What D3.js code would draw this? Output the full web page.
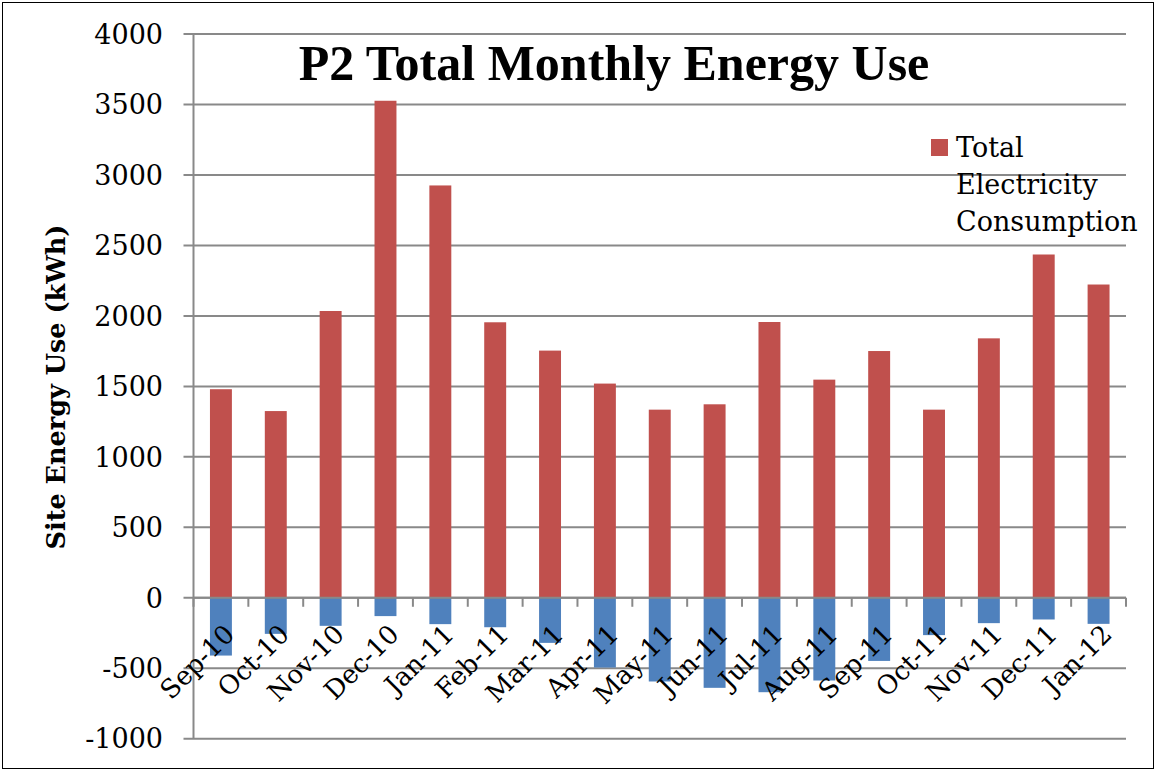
<!DOCTYPE html>
<html lang="en">
<head>
<meta charset="UTF-8">
<title>P2 Total Monthly Energy Use</title>
<script src="https://d3js.org/d3.v7.min.js"></script>
<style>
  body { margin: 0; background: #fff; }
  text { font-family: "DejaVu Serif", serif; fill: #000; }
</style>
</head>
<body>
<div id="chart"></div>
<script>
// chart data
const months = ["Sep-10", "Oct-10", "Nov-10", "Dec-10", "Jan-11", "Feb-11", "Mar-11", "Apr-11", "May-11",
  "Jun-11", "Jul-11", "Aug-11", "Sep-11", "Oct-11", "Nov-11", "Dec-11", "Jan-12"];
const consumption = [1480, 1325, 2035, 3527, 2926, 1955, 1754, 1520, 1335,
  1373, 1957, 1548, 1751, 1335, 1841, 2436, 2223];
const generation = [-410, -256, -199, -130, -187, -209, -320, -495, -594,
  -639, -670, -587, -448, -265, -180, -154, -185];
const yTicks = [-1000, -500, 0, 500, 1000, 1500, 2000, 2500, 3000, 3500, 4000];
const legendLines = ["Total", "Electricity", "Consumption"];

const width = 1156, height = 771;
const svg = d3.select("#chart").append("svg")
  .attr("width", width)
  .attr("height", height);

// outer frame
svg.append("rect")
  .attr("x", 2.5).attr("y", 2.5)
  .attr("width", width - 5).attr("height", height - 5)
  .attr("fill", "none").attr("stroke", "#000").attr("stroke-width", 1);

const left = 193.5, right = 1126;
const x = d3.scaleBand().domain(months).range([left, right])
  .paddingInner(0.6).paddingOuter(0.3);
const y = d3.scaleLinear().domain([-1000, 4000]).range([738.7, 34.1]);
const step = x.step();

// gridlines
svg.append("g").selectAll("line")
  .data(yTicks)
  .join("line")
  .attr("x1", left - 10).attr("x2", right)
  .attr("y1", d => y(d)).attr("y2", d => y(d))
  .attr("stroke", "#898989").attr("stroke-width", 2);

// y tick labels
svg.append("g").selectAll("text")
  .data(yTicks)
  .join("text")
  .attr("x", 163).attr("y", d => y(d))
  .attr("dy", "0.36em")
  .attr("text-anchor", "end")
  .style("font-size", "27px")
  .text(d => d);

// vertical axis line
svg.append("line")
  .attr("x1", left).attr("x2", left)
  .attr("y1", y(4000)).attr("y2", y(-1000))
  .attr("stroke", "#898989").attr("stroke-width", 2);

// bars
svg.append("g").selectAll("rect")
  .data(months)
  .join("rect")
  .attr("x", d => x(d)).attr("width", x.bandwidth())
  .attr("y", (d, i) => y(consumption[i]))
  .attr("height", (d, i) => y(0) - y(consumption[i]))
  .attr("fill", "#C0504D");

svg.append("g").selectAll("rect")
  .data(months)
  .join("rect")
  .attr("x", d => x(d)).attr("width", x.bandwidth())
  .attr("y", y(0))
  .attr("height", (d, i) => y(generation[i]) - y(0))
  .attr("fill", "#4F81BD");

// x axis with ticks between categories
const tickX = months.map(m => x(m) + x.bandwidth() / 2 - step / 2).concat([right]);
svg.append("line")
  .attr("x1", left).attr("x2", right)
  .attr("y1", y(0)).attr("y2", y(0))
  .attr("stroke", "#898989").attr("stroke-width", 2);
svg.append("g").selectAll("line")
  .data(tickX)
  .join("line")
  .attr("x1", d => d).attr("x2", d => d)
  .attr("y1", y(0)).attr("y2", y(0) + 9)
  .attr("stroke", "#898989").attr("stroke-width", 2);

// month labels, rotated
svg.append("g").selectAll("text")
  .data(months)
  .join("text")
  .attr("transform", d => `translate(${x(d) + x.bandwidth() / 2 + 15},${y(0) + 38}) rotate(-45)`)
  .attr("text-anchor", "end")
  .style("font-size", "26px")
  .text(d => d);

// y axis title
svg.append("text")
  .attr("transform", "translate(65,387) rotate(-90)")
  .attr("text-anchor", "middle")
  .style("font-size", "25.5px")
  .style("font-weight", "bold")
  .text("Site Energy Use (kWh)");

// chart title
svg.append("text")
  .attr("x", 614).attr("y", 80)
  .attr("text-anchor", "middle")
  .style("font-family", "'Liberation Serif', serif")
  .style("font-size", "50px")
  .style("font-weight", "bold")
  .text("P2 Total Monthly Energy Use");

// legend
const legend = svg.append("g");
legend.append("rect")
  .attr("x", 931).attr("y", 139)
  .attr("width", 17).attr("height", 17)
  .attr("fill", "#C0504D");
legend.selectAll("text")
  .data(legendLines)
  .join("text")
  .attr("x", 956)
  .attr("y", (d, i) => 157 + i * 37)
  .style("font-size", "27px")
  .text(d => d);
</script>
</body>
</html>
